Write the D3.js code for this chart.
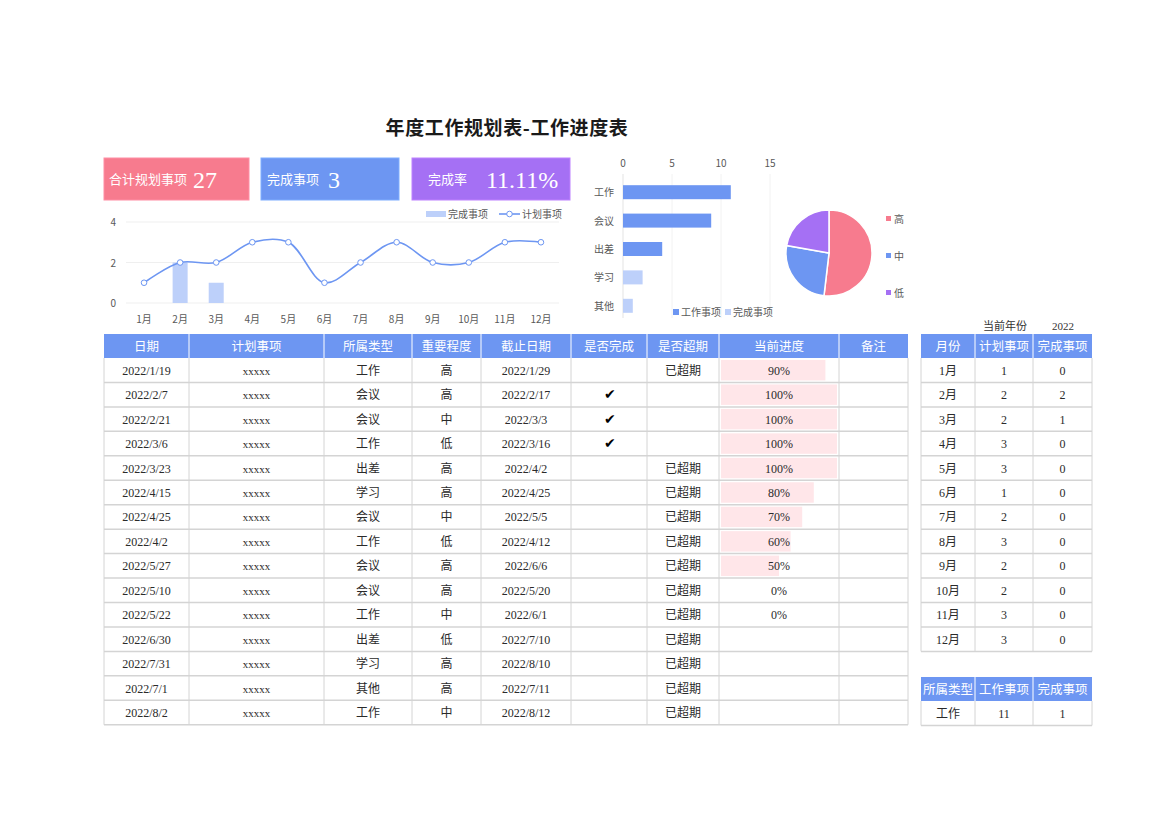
<!DOCTYPE html>
<html><head><meta charset="utf-8">
<script src="https://cdn.jsdelivr.net/npm/d3@7/dist/d3.min.js"></script>
<style>
body{margin:0;background:#fff;}
svg{display:block;}
text{font-family:"Liberation Serif","Noto Sans CJK SC",serif;}
.sans{font-family:"Noto Sans CJK SC","Noto Sans",sans-serif;}
</style></head>
<body>
<svg id="c" width="1170" height="827"></svg>
<script>
// ---------- DATA ----------
const title = "年度工作规划表-工作进度表";
const kpiLabels = ["合计规划事项", "完成事项", "完成率"];
const kpiValues = ["27", "3", "11.11%"];
const months = ["1月","2月","3月","4月","5月","6月","7月","8月","9月","10月","11月","12月"];
const plannedByMonth = [1,2,2,3,3,1,2,3,2,2,3,3];
const completedByMonth = [0,2,1,0,0,0,0,0,0,0,0,0];
const yTicks = [0,2,4];
const types = ["工作","会议","出差","学习","其他"];
const typeCounts = [11,9,4,2,1];
const xTicksBar = [0,5,10,15];
const levels = ["高","中","低"];
const levelCounts = [14,7,6];
const tableHeaders = ["日期","计划事项","所属类型","重要程度","截止日期","是否完成","是否超期","当前进度","备注"];
const startDates = ["2022/1/19","2022/2/7","2022/2/21","2022/3/6","2022/3/23","2022/4/15","2022/4/25","2022/4/2","2022/5/27","2022/5/10","2022/5/22","2022/6/30","2022/7/31","2022/7/1","2022/8/2"];
const taskNames = ["xxxxx","xxxxx","xxxxx","xxxxx","xxxxx","xxxxx","xxxxx","xxxxx","xxxxx","xxxxx","xxxxx","xxxxx","xxxxx","xxxxx","xxxxx"];
const taskTypes = ["工作","会议","会议","工作","出差","学习","会议","工作","会议","会议","工作","出差","学习","其他","工作"];
const taskLevels = ["高","高","中","低","高","高","中","低","高","高","中","低","高","高","中"];
const dueDates = ["2022/1/29","2022/2/17","2022/3/3","2022/3/16","2022/4/2","2022/4/25","2022/5/5","2022/4/12","2022/6/6","2022/5/20","2022/6/1","2022/7/10","2022/8/10","2022/7/11","2022/8/12"];
const doneFlags = [false,true,true,true,false,false,false,false,false,false,false,false,false,false,false];
const overdueFlags = [true,false,false,false,true,true,true,true,true,true,true,true,true,true,true];
const progress = [0.9,1,1,1,1,0.8,0.7,0.6,0.5,0,0,null,null,null,null];
const yearLabel = "当前年份";
const yearValue = "2022";
const monthHeaders = ["月份","计划事项","完成事项"];
const typeHeaders = ["所属类型","工作事项","完成事项"];
const typeSummary = ["工作","11","1"];

// ---------- STYLE ----------
const PINK="#F77B8E", BLUE="#6D96F2", PURPLE="#A570F4", LIGHT="#BDD0FA", GREY="#595959";
const svg = d3.select("#c");

// Title
svg.append("text").attr("class","sans").attr("x",507).attr("y",135).attr("text-anchor","middle")
  .attr("font-size",19).attr("font-weight","bold").attr("letter-spacing",0.6).attr("fill","#1a1a1a").text(title);

// KPI cards
const cards=[{x:104,w:145,c:PINK,lx:109,vx:193},{x:261,w:138,c:BLUE,lx:267,vx:328},{x:412,w:158,c:PURPLE,lx:428,vx:486}];
cards.forEach((cd,i)=>{
  svg.append("rect").attr("x",cd.x).attr("y",158).attr("width",cd.w).attr("height",42).attr("fill",cd.c)
    .attr("stroke",d3.color(cd.c).brighter(0.4)).attr("stroke-width",1);
  svg.append("text").attr("class","sans").attr("x",cd.lx).attr("y",184).attr("font-size",13).attr("fill","#fff").text(kpiLabels[i]);
  svg.append("text").attr("x",cd.vx).attr("y",188).attr("font-size",24).attr("fill","#fff").text(kpiValues[i]);
});

// ---------- LINE + BAR CHART ----------
const xM = d3.scaleBand().domain(months).range([126,559]);
const yM = d3.scaleLinear().domain([0,4]).range([303,222]);
const g1 = svg.append("g");
g1.selectAll(".grid").data(yTicks).join("line").attr("x1",126).attr("x2",559)
  .attr("y1",d=>yM(d)).attr("y2",d=>yM(d)).attr("stroke","#EFEFEF").attr("stroke-width",1);
g1.selectAll(".yl").data(yTicks).join("text").attr("class","sans").attr("x",116).attr("y",d=>yM(d)+4)
  .attr("text-anchor","end").attr("font-size",10).attr("fill",GREY).text(d=>d);
g1.selectAll(".xl").data(months).join("text").attr("class","sans").attr("x",d=>xM(d)+xM.bandwidth()/2).attr("y",323)
  .attr("text-anchor","middle").attr("font-size",10).attr("fill",GREY).text(d=>d);
g1.selectAll(".bar").data(completedByMonth).join("rect")
  .attr("x",(d,i)=>xM(months[i])+xM.bandwidth()/2-7.5).attr("width",15)
  .attr("y",d=>yM(d)).attr("height",d=>yM(0)-yM(d)).attr("fill",LIGHT);
const line = d3.line().x((d,i)=>xM(months[i])+xM.bandwidth()/2).y(d=>yM(d)).curve(d3.curveCatmullRom.alpha(0.5));
g1.append("path").datum(plannedByMonth).attr("d",line).attr("fill","none").attr("stroke",BLUE).attr("stroke-width",1.6);
g1.selectAll(".pt").data(plannedByMonth).join("circle").attr("cx",(d,i)=>xM(months[i])+xM.bandwidth()/2)
  .attr("cy",d=>yM(d)).attr("r",2.8).attr("fill","#fff").attr("stroke",BLUE).attr("stroke-width",1);
// legend
g1.append("rect").attr("x",426).attr("y",211).attr("width",20).attr("height",6).attr("fill",LIGHT);
g1.append("text").attr("class","sans").attr("x",448).attr("y",218).attr("font-size",10).attr("fill",GREY).text("完成事项");
g1.append("line").attr("x1",499).attr("x2",520).attr("y1",214).attr("y2",214).attr("stroke",BLUE).attr("stroke-width",1.6);
g1.append("circle").attr("cx",509.5).attr("cy",214).attr("r",2.8).attr("fill","#fff").attr("stroke",BLUE);
g1.append("text").attr("class","sans").attr("x",522).attr("y",218).attr("font-size",10).attr("fill",GREY).text("计划事项");

// ---------- HORIZONTAL BAR ----------
const xB = d3.scaleLinear().domain([0,15]).range([623,770]);
const yB = d3.scaleBand().domain(types).range([178,320]).paddingInner(0.5).paddingOuter(0.25);
const g2 = svg.append("g");
g2.selectAll(".vg").data(xTicksBar).join("line").attr("x1",d=>xB(d)).attr("x2",d=>xB(d)).attr("y1",174).attr("y2",318)
  .attr("stroke",(d,i)=>i===0?"#E3E3E3":"#F2F2F2");
g2.selectAll(".xt").data(xTicksBar).join("text").attr("class","sans").attr("x",d=>xB(d)).attr("y",167)
  .attr("text-anchor","middle").attr("font-size",10).attr("fill",GREY).text(d=>d);
g2.selectAll(".hb").data(typeCounts).join("rect").attr("x",xB(0)).attr("y",(d,i)=>yB.bandwidth()/2+yB(types[i])-7)
  .attr("height",14).attr("width",d=>xB(d)-xB(0)).attr("fill",(d,i)=>i<3?BLUE:LIGHT);
g2.selectAll(".cl").data(types).join("text").attr("class","sans").attr("x",614).attr("y",d=>yB(d)+yB.bandwidth()/2+4)
  .attr("text-anchor","end").attr("font-size",10).attr("fill",GREY).text(d=>d);
g2.append("rect").attr("x",673).attr("y",309).attr("width",6).attr("height",6).attr("fill",BLUE);
g2.append("text").attr("class","sans").attr("x",681).attr("y",316).attr("font-size",10).attr("fill",GREY).text("工作事项");
g2.append("rect").attr("x",725).attr("y",309).attr("width",6).attr("height",6).attr("fill",LIGHT);
g2.append("text").attr("class","sans").attr("x",733).attr("y",316).attr("font-size",10).attr("fill",GREY).text("完成事项");

// ---------- PIE ----------
const pieColors = d3.scaleOrdinal().domain(levels).range([PINK,BLUE,PURPLE]);
const arcs = d3.pie().sort(null)(levelCounts);
const arc = d3.arc().innerRadius(0).outerRadius(43);
const g3 = svg.append("g").attr("transform","translate(829,253)");
g3.selectAll("path").data(arcs).join("path").attr("d",arc).attr("fill",(d,i)=>pieColors(levels[i]))
  .attr("stroke","#fff").attr("stroke-width",1.5);
const legY = d3.scalePoint().domain(levels).range([219,293]);
svg.selectAll(".pl").data(levels).join("rect").attr("x",886).attr("y",d=>legY(d)-3).attr("width",5).attr("height",5).attr("fill",d=>pieColors(d));
svg.selectAll(".plt").data(levels).join("text").attr("class","sans").attr("x",894).attr("y",d=>legY(d)+4)
  .attr("font-size",10).attr("fill",GREY).text(d=>d);

// ---------- MAIN TABLE ----------
const colX = [104,189,324,412,481,571,647,719,839,908];
const headTop = 334, headH = 24, rowH = 24.45;
const nRows = startDates.length;
const gt = svg.append("g");
const yRow = d3.scaleLinear().domain([0,nRows]).range([headTop+headH, headTop+headH+rowH*nRows]);
gt.append("rect").attr("x",colX[0]).attr("y",headTop).attr("width",colX[9]-colX[0]).attr("height",headH).attr("fill",BLUE);
tableHeaders.forEach((h,i)=>{
  gt.append("text").attr("class","sans").attr("x",(colX[i]+colX[i+1])/2).attr("y",headTop+17).attr("text-anchor","middle")
    .attr("font-size",12.5).attr("fill","#fff").text(h);
});
// progress bars
const xP = d3.scaleLinear().domain([0,1]).range([0, colX[8]-colX[7]-4]);
gt.selectAll(".pb").data(progress).join("rect").attr("x",colX[7]+2).attr("y",(d,i)=>yRow(i)+2)
  .attr("width",d=>d==null?0:xP(d)).attr("height",rowH-4).attr("fill","#FFE6E9");
// cells
const rowsData = d3.range(nRows).map(i=>[startDates[i],taskNames[i],taskTypes[i],taskLevels[i],dueDates[i],
  doneFlags[i]?"✔":"", overdueFlags[i]?"已超期":"", progress[i]==null?"":d3.format(".0%")(progress[i]), ""]);
rowsData.forEach((r,ri)=>{
  r.forEach((v,ci)=>{
    if(!v) return;
    const t = gt.append("text").attr("x",(colX[ci]+colX[ci+1])/2).attr("y",yRow(ri)+rowH/2+4.5)
      .attr("text-anchor","middle").attr("font-size",ci===1?11:12).attr("fill","#2a2a2a").text(v);
    if(ci===5) t.attr("class","sans").attr("font-size",14).attr("fill","#000").attr("x",(colX[ci]+colX[ci+1])/2+1);
  });
});
// grid lines
d3.range(1,nRows+1).forEach(i=>{
  gt.append("line").attr("x1",colX[0]).attr("x2",colX[9]).attr("y1",yRow(i)).attr("y2",yRow(i)).attr("stroke","#D4D4D4").attr("stroke-width",1.5);
});
colX.forEach((x,i)=>{
  gt.append("line").attr("x1",x).attr("x2",x).attr("y1",headTop+headH).attr("y2",yRow(nRows)).attr("stroke","#D4D4D4").attr("stroke-width",1);
  if(i>0&&i<9) gt.append("line").attr("x1",x).attr("x2",x).attr("y1",headTop).attr("y2",headTop+headH).attr("stroke","#fff").attr("stroke-width",1);
});

// ---------- MONTH TABLE ----------
const mX = [921,975,1033,1092];
const gm = svg.append("g");
gm.append("text").attr("class","sans").attr("x",1005).attr("y",330).attr("text-anchor","middle").attr("font-size",11).attr("font-weight","normal").attr("fill","#333").text(yearLabel);
gm.append("text").attr("x",1063).attr("y",330).attr("text-anchor","middle").attr("font-size",11).attr("fill","#333").text(yearValue);
function smallTable(top, headers, rows){
  gm.append("rect").attr("x",mX[0]).attr("y",top).attr("width",mX[3]-mX[0]).attr("height",headH).attr("fill",BLUE);
  headers.forEach((h,i)=>gm.append("text").attr("class","sans").attr("x",(mX[i]+mX[i+1])/2).attr("y",top+17)
    .attr("text-anchor","middle").attr("font-size",12.5).attr("fill","#fff").text(h));
  [1,2].forEach(i=>gm.append("line").attr("x1",mX[i]).attr("x2",mX[i]).attr("y1",top).attr("y2",top+headH).attr("stroke","#fff"));
  const yr = d3.scaleLinear().domain([0,rows.length]).range([top+headH, top+headH+rowH*rows.length]);
  rows.forEach((r,ri)=>{
    r.forEach((v,ci)=>gm.append("text").attr("x",(mX[ci]+mX[ci+1])/2).attr("y",yr(ri)+rowH/2+4.5)
      .attr("text-anchor","middle").attr("font-size",12).attr("fill","#2a2a2a").text(v));
    gm.append("line").attr("x1",mX[0]).attr("x2",mX[3]).attr("y1",yr(ri+1)).attr("y2",yr(ri+1)).attr("stroke","#D4D4D4").attr("stroke-width",1.5);
  });
  mX.forEach(x=>gm.append("line").attr("x1",x).attr("x2",x).attr("y1",top+headH).attr("y2",yr(rows.length)).attr("stroke","#D4D4D4"));
}
smallTable(headTop, monthHeaders, months.map((m,i)=>[m, String(plannedByMonth[i]), String(completedByMonth[i])]));
smallTable(677, typeHeaders, [typeSummary]);
</script>
</body></html>
